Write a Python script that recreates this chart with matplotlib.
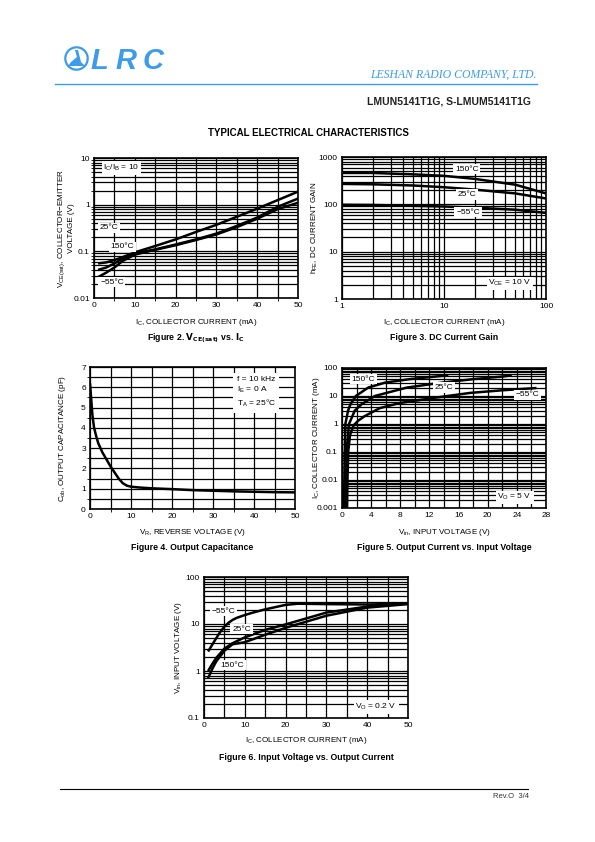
import numpy as np
import matplotlib
matplotlib.use("Agg")
import matplotlib.pyplot as plt
from matplotlib.patches import Circle, Polygon

plt.rcParams['font.family'] = ['Liberation Sans', 'DejaVu Sans']
plt.rcParams['mathtext.default'] = 'regular'

BLUE = '#3d9be9'

# ---- data ----
# Figure 2: VCE(sat) vs IC
ic2 = [1, 3, 5, 7, 10, 15, 20, 25, 30, 35, 40, 45, 50]
vce_a = [0.055, 0.058, 0.065, 0.075, 0.095, 0.13, 0.18, 0.26, 0.37, 0.55, 0.82, 1.25, 1.9]
vce_b = [0.04, 0.045, 0.055, 0.07, 0.09, 0.11, 0.14, 0.18, 0.24, 0.35, 0.53, 0.9, 1.35]
vce_c = [0.028, 0.035, 0.045, 0.062, 0.085, 0.108, 0.135, 0.175, 0.23, 0.33, 0.5, 0.8, 1.1]

# Figure 3: DC current gain
ic3 = [1, 2, 5, 10, 20, 50, 100]
hfe_150 = [460, 460, 430, 400, 345, 260, 170]
hfe_25 = [270, 265, 250, 230, 205, 170, 133]
hfe_m55 = [98, 97, 93, 90, 85, 77, 66]

# Figure 4: output capacitance
vr = [0, 0.3, 0.6, 1, 1.5, 2, 3, 4, 5, 6, 7, 8, 9, 10, 12, 15, 20, 25, 30, 35, 40, 45, 50]
cob = [6.2, 5.4, 4.6, 4.0, 3.6, 3.25, 2.8, 2.45, 2.1, 1.8, 1.5, 1.27, 1.15, 1.1, 1.06,
       1.02, 0.98, 0.93, 0.9, 0.87, 0.85, 0.83, 0.82]

# Figure 5: output current vs input voltage
vin5_150 = [0.28, 0.32, 0.38, 0.46, 0.83, 1.15, 1.9, 3.6, 5.9, 9.3, 13, 14.6]
ic5_150 = [0.001, 0.01, 0.1, 1, 3, 5, 10, 20, 30, 40, 50, 55]
vin5_25 = [0.5, 0.55, 0.62, 0.96, 1.75, 2.66, 4.5, 8.9, 13.7, 18, 22.2, 23.3]
ic5_25 = [0.001, 0.01, 0.1, 1, 3, 5, 10, 20, 30, 40, 50, 55]
vin5_m55 = [0.7, 0.75, 0.85, 1.1, 1.6, 2.2, 3.1, 5.2, 7.9, 12.5, 17.6, 22, 26.7]
ic5_m55 = [0.001, 0.01, 0.1, 0.4, 0.9, 1.3, 1.9, 3.7, 5.6, 8.5, 12.9, 16, 19.3]

# Figure 6: input voltage vs output current
ic6_m55 = [1, 2, 3, 4, 5, 6, 7, 8, 10, 12, 15, 20, 23, 30, 40, 50]
vin6_m55 = [2.6, 3.6, 5.0, 6.8, 8.8, 10.6, 12.2, 13.5, 15.5, 17.5, 20.5, 25.5, 27, 26.5, 26, 27]
ic6 = [1, 2, 3, 5, 7, 10, 15, 20, 30, 40, 50]
vin6_25 = [1.0, 1.4, 1.9, 3.0, 3.9, 5.2, 7.5, 9.8, 17.5, 23.5, 27.5]
vin6_150 = [0.7, 1.1, 1.6, 2.7, 3.7, 4.1, 5.9, 8.3, 15, 22.3, 26.5]

W, H = 595, 842
fig = plt.figure(figsize=(W / 100, H / 100), dpi=100)


def make_ax(x0, y0, x1, y1):
    ax = fig.add_axes([x0 / W, 1 - y1 / H, (x1 - x0) / W, (y1 - y0) / H])
    ax.tick_params(labelsize=6, length=0, pad=3)
    for s in ax.spines.values():
        s.set_linewidth(1.2)
    return ax


def grid(ax):
    ax.grid(True, which='both', color='black', lw=0.9)
    ax.set_axisbelow(True)


def log_labels(ax, axis, vals, labels):
    if axis == 'y':
        ax.set_yticks(vals)
        ax.set_yticklabels(labels)
    else:
        ax.set_xticks(vals)
        ax.set_xticklabels(labels)


box = dict(facecolor='white', edgecolor='none', pad=1.2)
lkw = dict(color='black', lw=1.8, solid_capstyle='butt', solid_joinstyle='round')

# ---- Figure 2 ----
ax = make_ax(94, 158, 298, 298)
ax.set_yscale('log')
ax.set_xlim(0, 50)
ax.set_ylim(0.01, 10)
ax.set_xticks(np.arange(0, 51, 5), minor=True)
ax.set_xticks([0, 10, 20, 30, 40, 50])
log_labels(ax, 'y', [0.01, 0.1, 1, 10], ['0.01', '0.1', '1', '10'])
grid(ax)
for v in (vce_a, vce_b, vce_c):
    ax.plot(ic2, v, **lkw)
ax.text(6.7, 6.1, '$I_C/I_B$ = 10', fontsize=6, ha='center', va='center', bbox=box)
ax.text(3.6, 0.32, '25°C', fontsize=6, ha='center', va='center', bbox=box)
ax.text(6.9, 0.124, '150°C', fontsize=6, ha='center', va='center', bbox=box)
ax.text(4.4, 0.022, '−55°C', fontsize=6, ha='center', va='center', bbox=box)

# ---- Figure 3 ----
ax = make_ax(342, 157, 546, 299)
ax.set_xscale('log')
ax.set_yscale('log')
ax.set_xlim(1, 100)
ax.set_ylim(1, 1000)
log_labels(ax, 'x', [1, 10, 100], ['1', '10', '100'])
log_labels(ax, 'y', [1, 10, 100, 1000], ['1', '10', '100', '1000'])
ax.tick_params(which='minor', labelleft=False, labelbottom=False, length=0)
grid(ax)
for v in (hfe_150, hfe_25, hfe_m55):
    ax.plot(ic3, v, **lkw)
ax.text(16.7, 550, '150°C', fontsize=6, ha='center', va='center', bbox=box)
ax.text(16.8, 162, '25°C', fontsize=6, ha='center', va='center', bbox=box)
ax.text(17.2, 68, '−55°C', fontsize=6, ha='center', va='center', bbox=box)
ax.text(44, 2.14, '$V_{CE}$ = 10 V', fontsize=6, ha='center', va='center', bbox=box)

# ---- Figure 4 ----
ax = make_ax(90, 367, 295, 509)
ax.set_xlim(0, 50)
ax.set_ylim(0, 7)
ax.set_xticks([0, 10, 20, 30, 40, 50])
ax.set_xticks(np.arange(0, 51, 5), minor=True)
ax.set_yticks(range(8))
ax.set_yticks(np.arange(0, 7.01, 0.5), minor=True)
grid(ax)
ax.plot(vr, cob, **lkw)
ax.text(35.8, 5.75, 'f = 10 kHz\n$I_E$ = 0 A\n$T_A$ = 25°C', fontsize=6, ha='left',
        va='center', linespacing=1.35, bbox=dict(facecolor='white', edgecolor='none', pad=2.5))

# ---- Figure 5 ----
ax = make_ax(342, 368, 546, 508)
ax.set_yscale('log')
ax.set_xlim(0, 28)
ax.set_ylim(0.001, 100)
ax.set_xticks(np.arange(0, 29, 4))
ax.set_xticks(np.arange(0, 29, 2), minor=True)
log_labels(ax, 'y', [0.001, 0.01, 0.1, 1, 10, 100], ['0.001', '0.01', '0.1', '1', '10', '100'])
ax.tick_params(which='minor', labelleft=False, length=0)
grid(ax)
ax.plot(vin5_150, ic5_150, **lkw)
ax.plot(vin5_25, ic5_25, **lkw)
ax.plot(vin5_m55, ic5_m55, **lkw)
ax.text(2.95, 40, '150°C', fontsize=6, ha='center', va='center', bbox=box)
ax.text(14, 20, '25°C', fontsize=6, ha='center', va='center', bbox=box)
ax.text(25.4, 10.9, '−55°C', fontsize=6, ha='center', va='center', bbox=box)
ax.text(23.7, 0.0024, '$V_O$ = 5 V', fontsize=6, ha='center', va='center', bbox=box)

# ---- Figure 6 ----
ax = make_ax(204, 577, 408, 718)
ax.set_yscale('log')
ax.set_xlim(0, 50)
ax.set_ylim(0.1, 100)
ax.set_xticks([0, 10, 20, 30, 40, 50])
ax.set_xticks(np.arange(0, 51, 5), minor=True)
log_labels(ax, 'y', [0.1, 1, 10, 100], ['0.1', '1', '10', '100'])
ax.tick_params(which='minor', labelleft=False, length=0)
grid(ax)
ax.plot(ic6_m55, vin6_m55, **lkw)
ax.plot(ic6, vin6_25, **lkw)
ax.plot(ic6, vin6_150, **lkw)
ax.text(4.8, 18.9, '−55°C', fontsize=6, ha='center', va='center', bbox=box)
ax.text(9.2, 7.8, '25°C', fontsize=6, ha='center', va='center', bbox=box)
ax.text(7.0, 1.34, '150°C', fontsize=6, ha='center', va='center', bbox=box)
ax.text(42.2, 0.17, '$V_O$ = 0.2 V', fontsize=6, ha='center', va='center', bbox=box)

# ---- page decoration, pixel coordinates ----
pg = fig.add_axes([0, 0, 1, 1], zorder=-1)
pg.set_xlim(0, W)
pg.set_ylim(H, 0)
pg.axis('off')

# logo
pg.add_patch(Circle((76.5, 58.5), 11.2, fill=False, ec=BLUE, lw=1.6))
pg.add_patch(Polygon([(68, 66), (85, 66), (81, 62), (78, 50), (75, 50), (77, 57), (71, 62)],
                     closed=True, fc=BLUE, ec='none'))
for ch, x in zip('LRC', (99, 126, 153)):
    pg.text(x, 61, ch, fontsize=21, fontweight='bold', style='italic', color=BLUE,
            ha='center', va='center')
pg.plot([55, 537], [83.5, 83.5], color=BLUE, lw=1)
pg.text(537, 75, 'LESHAN RADIO COMPANY, LTD.', family='Liberation Serif', style='italic',
        fontsize=8.5, color=BLUE, ha='right', va='center')
pg.text(531, 101, 'LMUN5141T1G, S-LMUM5141T1G', fontsize=7.5, fontweight='bold',
        ha='right', va='center', color='#222222')
pg.text(308, 133, 'TYPICAL ELECTRICAL CHARACTERISTICS', fontsize=7, fontweight='bold',
        ha='center', va='center')

# axis labels
lab = dict(fontsize=5.8, ha='center', va='center')
pg.text(196, 322, '$I_C$, COLLECTOR CURRENT (mA)', **lab)
pg.text(444, 322, '$I_C$, COLLECTOR CURRENT (mA)', **lab)
pg.text(192, 532, '$V_R$, REVERSE VOLTAGE (V)', **lab)
pg.text(444, 532, '$V_{in}$, INPUT VOLTAGE (V)', **lab)
pg.text(306, 741, '$I_C$, COLLECTOR CURRENT (mA)', **lab)
pg.text(66, 228, '$V_{CE(sat)}$, COLLECTOR−EMITTER\nVOLTAGE (V)', rotation=90,
        linespacing=1.2, **lab)
pg.text(315, 228, '$h_{FE}$, DC CURRENT GAIN', rotation=90, **lab)
pg.text(63, 438, '$C_{ob}$, OUTPUT CAPACITANCE (pF)', rotation=90, **lab)
pg.text(316, 438, '$I_C$, COLLECTOR CURRENT (mA)', rotation=90, **lab)
pg.text(178, 648, '$V_{in}$, INPUT VOLTAGE (V)', rotation=90, **lab)

# captions
cap = dict(fontsize=6.3, fontweight='bold', ha='center', va='center')
pg.text(196, 338, r'Figure 2. $\mathbf{V_{CE(sat)}}$ vs. $\mathbf{I_C}$', **cap)
pg.text(444, 338, 'Figure 3. DC Current Gain', **cap)
pg.text(192, 548, 'Figure 4. Output Capacitance', **cap)
pg.text(444, 548, 'Figure 5. Output Current vs. Input Voltage', **cap)
pg.text(306, 757, 'Figure 6. Input Voltage vs. Output Current', **cap)

# footer
pg.plot([60, 528], [789, 789], color='black', lw=0.8)
pg.text(511, 797, 'Rev.O  3/4', fontsize=5.5, ha='center', va='center', color='#333333')

fig.savefig('out.png', dpi=100)
